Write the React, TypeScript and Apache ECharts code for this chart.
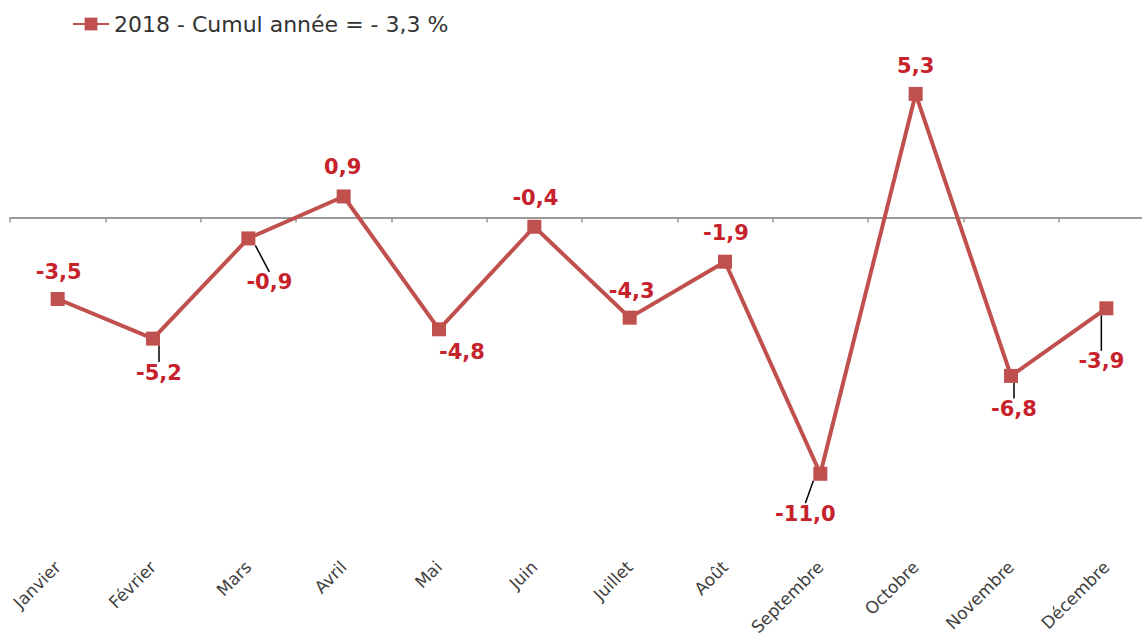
import React, { useEffect, useRef } from "react";
import * as echarts from "echarts";

const months = [
  "Janvier", "Février", "Mars", "Avril", "Mai", "Juin",
  "Juillet", "Août", "Septembre", "Octobre", "Novembre", "Décembre",
];
const values2018 = [-3.5, -5.2, -0.9, 0.9, -4.8, -0.4, -4.3, -1.9, -11.0, 5.3, -6.8, -3.9];
const seriesName = "2018 - Cumul année = - 3,3 %";

// label placement (style only)
const labelOffsets: [number, number][] = [
  [1, -27], [6, 34], [21, 44], [-1, -29], [23, 23], [1, -29],
  [2, -27], [1, -29], [-15, 40], [0, -28], [3, 33], [-5, 53],
];
const leaderLines = [false, true, true, false, false, false, false, false, true, false, true, true];

const LINE_COLOR = "#c0504d";
const LABEL_COLOR = "#c6222b";
const AXIS_COLOR = "#9a9a9a";
const FONT = "DejaVu Sans";

export default function App() {
  const ref = useRef<HTMLDivElement>(null);
  useEffect(() => {
    if (!ref.current) return;
    const chart = echarts.init(ref.current, null, { renderer: "svg" });
    const fmt = (v: number) => v.toFixed(1).replace(".", ",");
    chart.setOption({
      animation: false,
      backgroundColor: "#ffffff",
      legend: {
        left: 72,
        top: 13,
        padding: 0,
        itemWidth: 36,
        itemHeight: 16,
        textStyle: { fontSize: 22, color: "#333333", fontFamily: FONT },
        data: [seriesName],
      },
      grid: {
        left: 10,
        top: 31,
        width: 1144,
        height: 536,
        containLabel: false,
        outerBoundsMode: "none",
      },
      xAxis: [
        {
          type: "category",
          data: months,
          boundaryGap: true,
          position: "bottom",
          axisLine: { show: true, onZero: true, lineStyle: { color: AXIS_COLOR, width: 2 } },
          axisTick: { show: true, length: 5, lineStyle: { color: AXIS_COLOR, width: 1.5 } },
          axisLabel: { show: false },
          splitLine: { show: false },
        },
        {
          type: "category",
          data: months,
          boundaryGap: true,
          position: "bottom",
          axisLine: { show: false, onZero: false },
          axisTick: { show: false },
          axisLabel: {
            show: true,
            rotate: 45,
            margin: -3,
            fontSize: 17,
            color: "#404040",
            fontFamily: FONT,
          },
          splitLine: { show: false },
        },
      ],
      yAxis: {
        type: "value",
        min: -15,
        max: 8,
        show: false,
        splitLine: { show: false },
      },
      series: [
        {
          name: seriesName,
          type: "line",
          xAxisIndex: 0,
          data: values2018.map((v, i) => ({
            value: v,
            labelLine: { show: leaderLines[i] },
          })),
          symbol: "rect",
          symbolSize: 14,
          lineStyle: { color: LINE_COLOR, width: 4 },
          itemStyle: { color: LINE_COLOR },
          label: {
            show: true,
            position: "inside",
            formatter: (p: any) => fmt(p.value),
            fontSize: 21,
            fontWeight: "bold",
            color: LABEL_COLOR,
            fontFamily: FONT,
          },
          labelLayout: (params: any) => ({
            dx: labelOffsets[params.dataIndex][0],
            dy: labelOffsets[params.dataIndex][1],
          }),
          labelLine: { show: false, lineStyle: { color: "#000000", width: 1.5 } },
        },
      ],
    });
    return () => chart.dispose();
  }, []);
  return (
    <div
      ref={ref}
      style={{ position: "absolute", left: 0, top: 0, width: 1142, height: 639 }}
    />
  );
}
